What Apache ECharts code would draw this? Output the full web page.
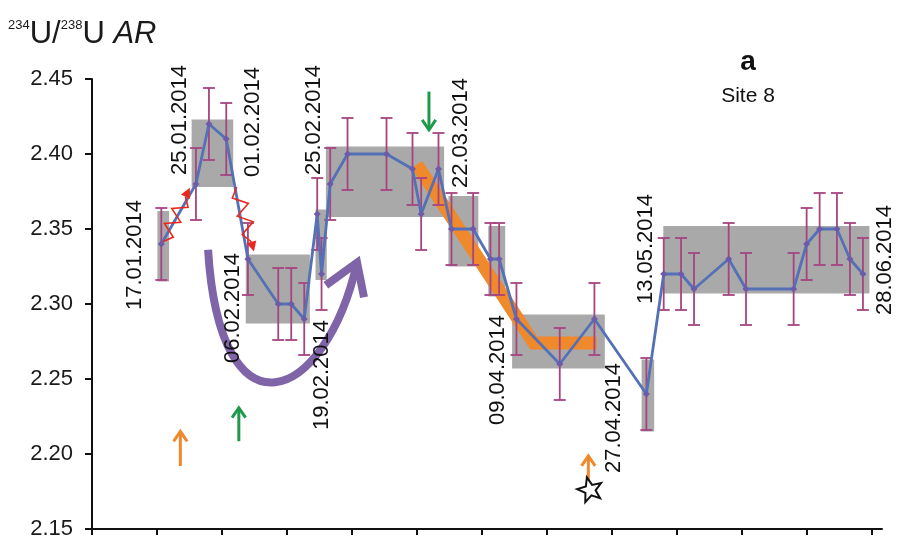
<!DOCTYPE html>
<html>
<head>
<meta charset="utf-8">
<script src="https://cdn.jsdelivr.net/npm/echarts@6/dist/echarts.min.js"></script>
<style>
  html, body { margin: 0; padding: 0; background: #fff; }
  #chart { width: 901px; height: 540px; }
</style>
</head>
<body>
<div id="chart"></div>
<script>
// 234U/238U activity ratio at site 8, January - June 2014
const sampleDates = ['17.01.2014','25.01.2014','28.01.2014','01.02.2014','06.02.2014','13.02.2014','16.02.2014','19.02.2014','22.02.2014','23.02.2014','25.02.2014','01.03.2014','10.03.2014','16.03.2014','18.03.2014','22.03.2014','25.03.2014','30.03.2014','03.04.2014','05.04.2014','09.04.2014','19.04.2014','27.04.2014','09.05.2014','13.05.2014','17.05.2014','20.05.2014','28.05.2014','01.06.2014','12.06.2014','15.06.2014','18.06.2014','22.06.2014','25.06.2014','28.06.2014'];
const activityRatio = [2.34,2.38,2.42,2.41,2.33,2.30,2.30,2.29,2.36,2.32,2.38,2.40,2.40,2.39,2.36,2.39,2.35,2.35,2.33,2.33,2.29,2.26,2.29,2.24,2.32,2.32,2.31,2.33,2.31,2.31,2.34,2.35,2.35,2.33,2.32];
const ratioError = [0.024,0.024,0.024,0.024,0.024,0.024,0.024,0.024,0.024,0.024,0.024,0.024,0.024,0.024,0.024,0.024,0.024,0.024,0.024,0.024,0.024,0.024,0.024,0.024,0.024,0.024,0.024,0.024,0.024,0.024,0.024,0.024,0.024,0.024,0.024];

// Y-axis ticks
const ratioTicks = [2.15, 2.20, 2.25, 2.30, 2.35, 2.40, 2.45];
// X-axis ticks, days since 01.01.2014
const dayTicks = [0, 15, 30, 45, 60, 75, 90, 105, 120, 135, 150, 165, 180];

// Grey plateau boxes (day range, ratio range)
const plateauStart = [15.1, 23.0, 35.5, 51.6, 54.0, 82.3, 91.5, 97.0, 126.9, 131.9];
const plateauEnd   = [17.8, 32.6, 50.3, 54.2, 81.3, 89.2, 95.4, 118.4, 129.8, 179.5];
const plateauLow   = [2.315, 2.378, 2.287, 2.316, 2.358, 2.325, 2.305, 2.257, 2.215, 2.307];
const plateauHigh  = [2.362, 2.423, 2.333, 2.363, 2.405, 2.372, 2.352, 2.293, 2.263, 2.352];

// Orange decline trend
const trendDays  = [75, 102, 116.5];
const trendRatio = [2.393, 2.274, 2.274];

// Dates that are written next to their points
const labelledDates = ['17.01.2014','25.01.2014','01.02.2014','06.02.2014','19.02.2014','25.02.2014','22.03.2014','09.04.2014','27.04.2014','13.05.2014','28.06.2014'];
const labelOffsets = [[-26, 11], [-16, -64], [27, -17], [-15, 49], [18, 56], [-16, -64], [22, -36], [-19, 51], [20, 99], [-18, -25], [22, -14]];

// Event arrows (day, tail ratio, tip ratio)
const arrowDay  = [20.4, 33.9, 77.8, 114.6];
const arrowTail = [2.192, 2.2085, 2.4416, 2.1812];
const arrowTip  = [2.215, 2.2308, 2.4161, 2.1987];
const arrowColor = ['#F0882C', '#1F9A4C', '#1F9A4C', '#F0882C'];

// Star marker
const starPoint = [115.0, 2.176];

// Red zigzag arrows (from day/ratio to day/ratio)
const zigzagFrom = [[16.46, 2.3417], [33.4, 2.378]];
const zigzagTo   = [[22.6, 2.3775], [37.4, 2.335]];

// Purple U-turn arrow: cubic Bezier control points, then the two head wings
const uTurnCurve = [[26.8, 2.3362], [29.55, 2.2065], [53.8, 2.2331], [61.2, 2.3276]];
const uTurnWings = [[54.0, 2.3125], [62.8, 2.3045]];

function dayOf(s) {
  const [d, m, y] = s.split('.').map(Number);
  return (Date.UTC(y, m - 1, d) - Date.UTC(2014, 0, 1)) / 86400000;
}

const FONT = '"Liberation Sans", Arial, Helvetica, sans-serif';
const sampleDays = sampleDates.map(dayOf);
const lineData = sampleDays.map((d, i) => [d, activityRatio[i]]);
const errData = sampleDays.map((d, i) => [d, activityRatio[i], ratioError[i]]);
const boxData = plateauStart.map((s, i) => [s, plateauEnd[i], plateauLow[i], plateauHigh[i]]);
const labelData = labelledDates.map((s, i) => {
  const k = sampleDates.indexOf(s);
  return [sampleDays[k], activityRatio[k], i];
});
const arrowData = arrowDay.map((d, i) => [d, arrowTail[i], arrowTip[i], i]);
const zigzagData = zigzagFrom.map((f, i) => [f[0], f[1], zigzagTo[i][0], zigzagTo[i][1]]);
const uTurnData = [[].concat(...uTurnCurve, ...uTurnWings)];

const chart = echarts.init(document.getElementById('chart'), null, { renderer: 'canvas' });

const option = {
  animation: false,
  backgroundColor: '#ffffff',
  grid: { left: 92, right: 19, top: 79, bottom: 10, containLabel: false },
  xAxis: {
    type: 'value',
    min: 0,
    max: 182.4,
    axisLine: { show: true, lineStyle: { color: '#111', width: 2 } },
    axisTick: { show: true, inside: false, length: 6, customValues: dayTicks, lineStyle: { color: '#111', width: 2 } },
    axisLabel: { show: false },
    splitLine: { show: false }
  },
  yAxis: {
    type: 'value',
    min: ratioTicks[0],
    max: ratioTicks[ratioTicks.length - 1],
    interval: 0.05,
    axisLine: { show: true, lineStyle: { color: '#111', width: 2 } },
    axisTick: { show: true, inside: false, length: 7, lineStyle: { color: '#111', width: 2 } },
    axisLabel: {
      margin: 19, fontSize: 22, fontFamily: FONT, color: '#1a1a1a',
      formatter: v => v.toFixed(2)
    },
    splitLine: { show: false }
  },
  graphic: [
    {
      type: 'text', left: 8, top: 19,
      style: {
        text: '{s|234}{m|U/}{s|238}{m|U }{i|AR}',
        rich: {
          s: { fontSize: 13, fontFamily: FONT, fill: '#1a1a1a', verticalAlign: 'top', lineHeight: 31 },
          m: { fontSize: 31, fontFamily: FONT, fill: '#1a1a1a', lineHeight: 31 },
          i: { fontSize: 31, fontFamily: FONT, fill: '#1a1a1a', fontStyle: 'italic', lineHeight: 31 }
        }
      }
    },
    {
      type: 'text', x: 748, y: 62,
      style: { text: 'a', fontSize: 28, fontWeight: 'bold', fontFamily: FONT, fill: '#111', align: 'center', verticalAlign: 'middle' }
    },
    {
      type: 'text', x: 748, y: 96,
      style: { text: 'Site 8', fontSize: 21, fontFamily: FONT, fill: '#111', align: 'center', verticalAlign: 'middle' }
    }
  ],
  series: [
    // grey plateau boxes
    {
      type: 'custom', z: 1, silent: true,
      data: boxData,
      encode: { x: [0, 1], y: [2, 3] },
      renderItem: (params, api) => {
        const p0 = api.coord([api.value(0), api.value(3)]);
        const p1 = api.coord([api.value(1), api.value(2)]);
        return { type: 'rect', shape: { x: p0[0], y: p0[1], width: p1[0] - p0[0], height: p1[1] - p0[1] }, style: { fill: '#a9a9a9' } };
      }
    },
    // orange trend band
    {
      type: 'line', z: 2, silent: true,
      data: trendDays.map((d, i) => [d, trendRatio[i]]),
      symbol: 'none',
      lineStyle: { color: '#F0882C', width: 13, cap: 'butt', join: 'miter' }
    },
    // error bars
    {
      type: 'custom', z: 3, silent: true,
      data: errData,
      encode: { x: 0, y: 1 },
      renderItem: (params, api) => {
        const x = api.value(0), v = api.value(1), e = api.value(2);
        const t = api.coord([x, v + e]);
        const b = api.coord([x, v - e]);
        const w = 6;
        const style = { stroke: '#A5457F', lineWidth: 1.8 };
        return {
          type: 'group',
          children: [
            { type: 'line', shape: { x1: t[0], y1: t[1], x2: b[0], y2: b[1] }, style },
            { type: 'line', shape: { x1: t[0] - w, y1: t[1], x2: t[0] + w, y2: t[1] }, style },
            { type: 'line', shape: { x1: b[0] - w, y1: b[1], x2: b[0] + w, y2: b[1] }, style }
          ]
        };
      }
    },
    // measured series
    {
      type: 'line', z: 4, silent: true,
      data: lineData,
      symbol: 'diamond', symbolSize: 7,
      itemStyle: { color: '#6E5AA8' },
      lineStyle: { color: '#5470B6', width: 2.8 }
    },
    // purple U-turn arrow
    {
      type: 'custom', z: 5, silent: true,
      data: uTurnData,
      renderItem: (params, api) => {
        const P = [];
        for (let i = 0; i < 6; i++) P.push(api.coord([api.value(2 * i), api.value(2 * i + 1)]));
        const style = { stroke: '#8064A8', lineWidth: 8, fill: null, lineCap: 'butt', lineJoin: 'miter' };
        return {
          type: 'group',
          children: [
            { type: 'bezierCurve', shape: { x1: P[0][0], y1: P[0][1], cpx1: P[1][0], cpy1: P[1][1], cpx2: P[2][0], cpy2: P[2][1], x2: P[3][0], y2: P[3][1] }, style },
            { type: 'polyline', shape: { points: [P[4], P[3], P[5]] }, style }
          ]
        };
      }
    },
    // red zigzag arrows
    {
      type: 'custom', z: 6, silent: true,
      data: zigzagData,
      renderItem: (params, api) => {
        const a = api.coord([api.value(0), api.value(1)]);
        const b = api.coord([api.value(2), api.value(3)]);
        const dx = b[0] - a[0], dy = b[1] - a[1];
        const len = Math.hypot(dx, dy);
        const ux = dx / len, uy = dy / len, px = -uy, py = ux;
        const head = 10;
        const c = [b[0] - ux * head, b[1] - uy * head];
        const n = 6, amp = 7;
        const pts = [a];
        for (let i = 1; i < n; i++) {
          const f = i / n, s = (i % 2 ? 1 : -1) * amp;
          pts.push([a[0] + (c[0] - a[0]) * f + px * s, a[1] + (c[1] - a[1]) * f + py * s]);
        }
        pts.push(c);
        return {
          type: 'group',
          children: [
            { type: 'polyline', shape: { points: pts }, style: { stroke: '#E8281E', lineWidth: 1.6, fill: null } },
            { type: 'polygon', shape: { points: [b, [c[0] + px * 5, c[1] + py * 5], [c[0] - px * 5, c[1] - py * 5]] }, style: { fill: '#E8281E' } }
          ]
        };
      }
    },
    // straight event arrows
    {
      type: 'custom', z: 6, silent: true,
      data: arrowData,
      renderItem: (params, api) => {
        const d = api.value(0);
        const a = api.coord([d, api.value(1)]);
        const b = api.coord([d, api.value(2)]);
        const col = arrowColor[api.value(3)];
        const dx = b[0] - a[0], dy = b[1] - a[1];
        const len = Math.hypot(dx, dy);
        const ux = dx / len, uy = dy / len;
        const h = 12, ang = 0.6;
        const w1 = [b[0] - h * (ux * Math.cos(ang) - uy * Math.sin(ang)), b[1] - h * (uy * Math.cos(ang) + ux * Math.sin(ang))];
        const w2 = [b[0] - h * (ux * Math.cos(ang) + uy * Math.sin(ang)), b[1] - h * (uy * Math.cos(ang) - ux * Math.sin(ang))];
        const style = { stroke: col, lineWidth: 3, fill: null, lineCap: 'butt' };
        return {
          type: 'group',
          children: [
            { type: 'line', shape: { x1: a[0], y1: a[1], x2: b[0], y2: b[1] }, style },
            { type: 'polyline', shape: { points: [w1, b, w2] }, style }
          ]
        };
      }
    },
    // star marker
    {
      type: 'custom', z: 6, silent: true,
      data: [starPoint],
      renderItem: (params, api) => {
        const c = api.coord([api.value(0), api.value(1)]);
        const pts = [];
        const rot = -0.25;
        for (let i = 0; i < 10; i++) {
          const r = i % 2 ? 5.5 : 13;
          const t = -Math.PI / 2 + rot + i * Math.PI / 5;
          pts.push([c[0] + r * Math.cos(t), c[1] + r * Math.sin(t)]);
        }
        return { type: 'polygon', shape: { points: pts }, style: { fill: '#fff', stroke: '#111', lineWidth: 2 } };
      }
    },
    // rotated date labels
    {
      type: 'custom', z: 7, silent: true,
      data: labelData,
      renderItem: (params, api) => {
        const p = api.coord([api.value(0), api.value(1)]);
        const k = api.value(2);
        const off = labelOffsets[k];
        return {
          type: 'text', x: p[0] + off[0], y: p[1] + off[1], rotation: Math.PI / 2,
          style: { text: labelledDates[k], fontSize: 22, fontFamily: FONT, fill: '#111', align: 'center', verticalAlign: 'middle' }
        };
      }
    }
  ]
};

chart.setOption(option);
</script>
</body>
</html>
